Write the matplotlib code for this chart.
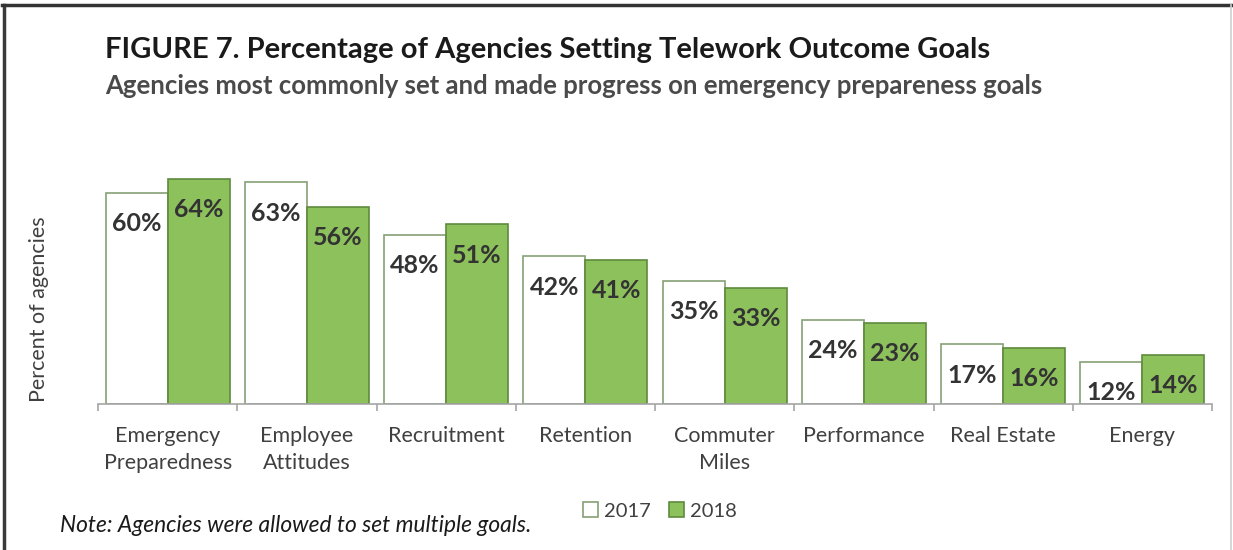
import numpy as np
import matplotlib.pyplot as plt

plt.rcParams['font.family'] = ['Lato', 'DejaVu Sans']

categories = ['Emergency\nPreparedness', 'Employee\nAttitudes', 'Recruitment', 'Retention',
              'Commuter\nMiles', 'Performance', 'Real Estate', 'Energy']
pct_2017 = [60, 63, 48, 42, 35, 24, 17, 12]
pct_2018 = [64, 56, 51, 41, 33, 23, 16, 14]

green = '#8dc15b'
text_dark = '#333333'
tick_gray = '#404040'

fig = plt.figure(figsize=(12.33, 5.5), dpi=100)

# frame drawn around the figure (left, top, right only)
fig.add_artist(plt.Line2D([0.0035, 0.0035], [0, 0.991], color='#3a3a3a', lw=2.5, transform=fig.transFigure))
fig.add_artist(plt.Line2D([0.002, 0.998], [0.991, 0.991], color='#333333', lw=2.5, transform=fig.transFigure))
fig.add_artist(plt.Line2D([0.9985, 0.9985], [0, 0.991], color='#d0d0d0', lw=1.2, transform=fig.transFigure))

ax = fig.add_axes([98 / 1233, 1 - 404 / 550, (1212 - 98) / 1233, 0.45])
x = np.arange(len(categories))
w = 0.445
ymax = 0.45 * 550 / 3.52
ax.set_ylim(0, ymax)
ax.set_xlim(-0.5, len(categories) - 0.5)

b1 = ax.bar(x - w / 2, pct_2017, w, color='white', edgecolor='#86a075', linewidth=1.2, label='2017')
b2 = ax.bar(x + w / 2, pct_2018, w, color=green, edgecolor='#5f8a3c', linewidth=1.2, label='2018')

for bars, vals in ((b1, pct_2017), (b2, pct_2018)):
    for bar, v in zip(bars, vals):
        ax.annotate(f'{v}%', (bar.get_x() + bar.get_width() / 2, v),
                    xytext=(0, -14), textcoords='offset points',
                    ha='center', va='top', fontsize=18, fontweight='bold', color=text_dark)

for s in ('top', 'right', 'left'):
    ax.spines[s].set_visible(False)
ax.spines['bottom'].set_color('#a6a6a6')
ax.spines['bottom'].set_linewidth(1.2)
ax.set_yticks([])
ax.set_xticks(np.arange(len(categories) + 1) - 0.5, minor=True)
ax.set_xticks(x)
ax.set_xticklabels(categories, fontsize=15.5, color=tick_gray, linespacing=1.4)
ax.tick_params(axis='x', which='major', length=0, pad=16)
ax.tick_params(axis='x', which='minor', length=5, width=1.2, color='#a6a6a6')

fig.text(29 / 1233, 1 - 309 / 550, 'Percent of agencies', rotation=90, ha='left', va='center',
         fontsize=15.5, color=tick_gray)

fig.text(105 / 1233, 1 - 50 / 550, 'FIGURE 7. Percentage of Agencies Setting Telework Outcome Goals',
         fontsize=21, fontweight='bold', color='#1a1a1a', va='center')
fig.text(105 / 1233, 1 - 86 / 550, 'Agencies most commonly set and made progress on emergency prepareness goals',
         fontsize=18.5, fontweight='bold', color='#4a4a4a', va='center')

fig.text(60 / 1233, 1 - 526 / 550, 'Note: Agencies were allowed to set multiple goals.',
         fontsize=16.4, style='italic', color='#1a1a1a', va='center')

leg = fig.legend(handles=[b1, b2], labels=['2017', '2018'], loc='center',
                 bbox_to_anchor=(660 / 1233, 1 - 511 / 550), ncol=2, frameon=False,
                 fontsize=14.5, handlelength=0.75, handleheight=0.75, handletextpad=0.3,
                 columnspacing=0.9, labelcolor=tick_gray)

fig.savefig('out.png', dpi=100)
